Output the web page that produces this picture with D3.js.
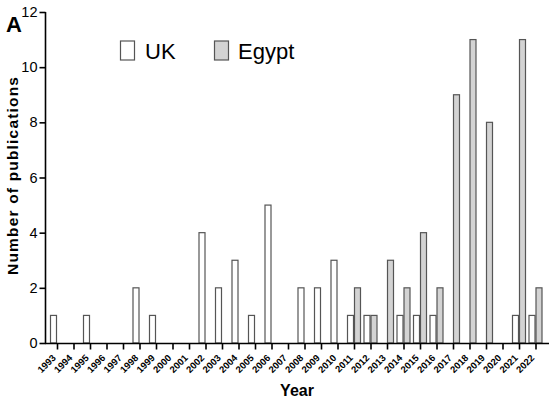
<!DOCTYPE html>
<html><head><meta charset="utf-8">
<script src="https://cdn.jsdelivr.net/npm/d3@7"></script>
<style>body{margin:0;background:#fff}svg{display:block}text{font-family:Arial,"Liberation Sans",sans-serif}</style>
</head><body>
<svg id="c" width="550" height="402"></svg>
<script>
const years = ["1993","1994","1995","1996","1997","1998","1999","2000","2001","2002","2003","2004","2005","2006","2007","2008","2009","2010","2011","2012","2013","2014","2015","2016","2017","2018","2019","2020","2021","2022"];
const ukValues =    [1,0,1,0,0,2,1,0,0,4,2,3,1,5,0,2,2,3,1,1,0,1,1,1,0,0,0,0,1,1];
const egyptValues = [0,0,0,0,0,0,0,0,0,0,0,0,0,0,0,0,0,0,2,1,3,2,4,2,9,11,8,0,11,2];
const yTicks = [0,2,4,6,8,10,12];
const seriesNames = ["UK","Egypt"];

const svg = d3.select("#c");
const x = d3.scalePoint().domain(years).range([57, 535.5]);
const y = d3.scaleLinear().domain([0,12]).range([343, 12]);
const bw = 6;
const stroke = "#555";

// bars
const g = svg.append("g");
years.forEach((yr,i)=>{
  if (ukValues[i] > 0) g.append("rect").attr("x", x(yr)-bw-0.5).attr("y", y(ukValues[i])).attr("width", bw).attr("height", y(0)-y(ukValues[i]))
    .attr("fill","#fff").attr("stroke",stroke).attr("stroke-width",1.2);
  if (egyptValues[i] > 0) g.append("rect").attr("x", x(yr)+0.5).attr("y", y(egyptValues[i])).attr("width", bw).attr("height", y(0)-y(egyptValues[i]))
    .attr("fill","#d3d3d3").attr("stroke",stroke).attr("stroke-width",1.2);
});

// y axis
const ya = svg.append("g").attr("transform","translate(45.5,0)")
  .call(d3.axisLeft(y).tickValues(yTicks).tickSize(6).tickPadding(2));
ya.select(".domain").attr("stroke","#000").attr("stroke-width",1.6).attr("d","M0,"+y(12)+"V"+(y(0)));
ya.selectAll(".tick line").attr("stroke","#000").attr("stroke-width",1.6);
ya.selectAll(".tick text").attr("font-size",14.5).attr("fill","#000").style("font-family","Arial, 'Liberation Sans', sans-serif");

// x axis
const xa = svg.append("g").attr("transform","translate(0,343.5)")
  .call(d3.axisBottom(x).tickSize(6).tickPadding(2));
xa.select(".domain").attr("stroke","#000").attr("stroke-width",1.6).attr("d","M45,0H549");
xa.selectAll(".tick line").attr("stroke","#000").attr("stroke-width",1.6);
xa.selectAll(".tick text").attr("font-size",9.5).attr("font-weight","bold").attr("fill","#000")
  .style("font-family","Arial, 'Liberation Sans', sans-serif")
  .attr("text-anchor","end").attr("x",0).attr("y",0).attr("dy","0").attr("transform","translate(-1,15) rotate(-45)");

// axis titles
svg.append("text").attr("x",297).attr("y",396).attr("text-anchor","middle").attr("font-size",16).attr("font-weight","bold").text("Year");
svg.append("text").attr("transform","translate(18,176) rotate(-90)").attr("text-anchor","middle").attr("font-size",15.5).attr("font-weight","bold")
  .attr("textLength",198).attr("lengthAdjust","spacing").text("Number of publications");
svg.append("text").attr("x",6).attr("y",32).attr("font-size",22).attr("font-weight","bold").text("A");

// legend
const leg = [{name:seriesNames[0],fill:"#fff",bx:120,tx:145},{name:seriesNames[1],fill:"#d3d3d3",bx:214,tx:238}];
leg.forEach(d=>{
  svg.append("rect").attr("x",d.bx+0.5).attr("y",41).attr("width",14).attr("height",19).attr("fill",d.fill).attr("stroke",stroke).attr("stroke-width",1.2);
  svg.append("text").attr("x",d.tx).attr("y",59).attr("font-size",22).text(d.name);
});
</script>
</body></html>
